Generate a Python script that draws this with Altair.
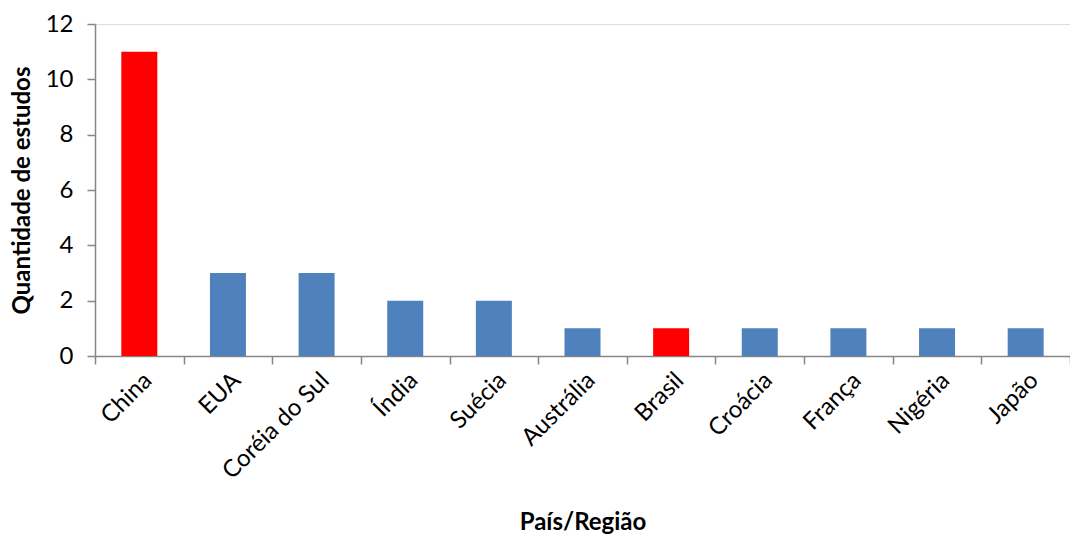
import altair as alt
import pandas as pd

countries = ["China", "EUA", "Coréia do Sul", "Índia", "Suécia", "Austrália",
             "Brasil", "Croácia", "França", "Nigéria", "Japão"]
studies = [11, 3, 3, 2, 2, 1, 1, 1, 1, 1, 1]
highlight = ["China", "Brasil"]

df = pd.DataFrame({"pais": countries, "estudos": studies})
df["cor"] = ["#FF0000" if c in highlight else "#4F81BD" for c in countries]

FONT = "Lato"
AXIS_GRAY = "#868686"
FS = 24

chart = (
    alt.Chart(df)
    .mark_bar(size=36)
    .encode(
        x=alt.X(
            "pais:N",
            sort=countries,
            title="País/Região",
            scale=alt.Scale(paddingInner=0, paddingOuter=0),
            axis=alt.Axis(
                labelAngle=-45,
                labelFontSize=FS,
                labelFont=FONT,
                labelColor="#000000",
                labelPadding=4,
                tickBand="extent",
                tickSize=8,
                tickColor=AXIS_GRAY,
                domainColor=AXIS_GRAY,
                domainWidth=1.5,
                tickWidth=1.5,
                titleFont=FONT,
                titleFontSize=FS,
                titleFontWeight="bold",
                titleColor="#000000",
                titleBaseline="middle",
                titleY=166,
            ),
        ),
        y=alt.Y(
            "estudos:Q",
            title="Quantidade de estudos",
            scale=alt.Scale(domain=[0, 12], nice=False),
            axis=alt.Axis(
                values=[0, 2, 4, 6, 8, 10, 12],
                grid=False,
                labelFontSize=FS,
                labelFont=FONT,
                labelColor="#000000",
                labelPadding=14,
                tickSize=8,
                tickColor=AXIS_GRAY,
                domainColor=AXIS_GRAY,
                domainWidth=1.5,
                tickWidth=1.5,
                titleFont=FONT,
                titleFontSize=FS,
                titleFontWeight="bold",
                titleColor="#000000",
                titleBaseline="middle",
                titleX=-73,
            ),
        ),
        color=alt.Color("cor:N", scale=None, legend=None),
    )
    .properties(
        width=975,
        height=332,
        autosize=alt.AutoSizeParams(type="none"),
        padding={"left": 95, "top": 24, "right": 0, "bottom": 180},
    )
    .configure_view(stroke=None)
    .configure(background="white")
)

chart.save("out.html", embed_options={"renderer": "svg", "actions": False})
